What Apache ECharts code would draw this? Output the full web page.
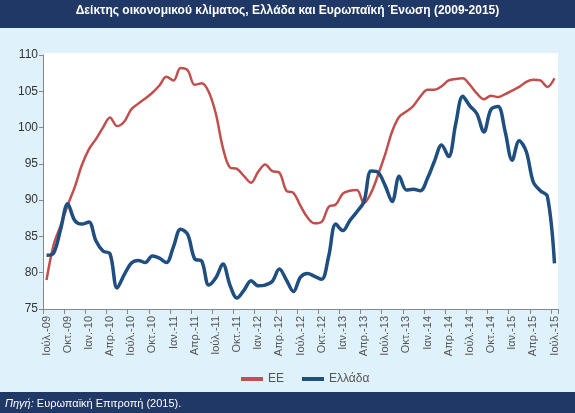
<!DOCTYPE html>
<html>
<head>
<meta charset="utf-8">
<script src="https://cdn.jsdelivr.net/npm/echarts@6/dist/echarts.min.js"></script>
<style>
html,body{margin:0;padding:0;background:#dff1fa;}
#chart{width:575px;height:413px;}
</style>
</head>
<body>
<div id="chart"></div>
<script>
var titleText = 'Δείκτης οικονομικού κλίματος, Ελλάδα και Ευρωπαϊκή Ένωση (2009-2015)';
var sourceLabel = 'Πηγή:';
var sourceText = ' Ευρωπαϊκή Επιτροπή (2015).';

var categories = [
  'Ιούλ.-09','Αύγ.-09','Σεπ.-09','Οκτ.-09','Νοέ.-09','Δεκ.-09',
  'Ιαν.-10','Φεβ.-10','Μαρ.-10','Απρ.-10','Μάι.-10','Ιούν.-10','Ιούλ.-10','Αύγ.-10','Σεπ.-10','Οκτ.-10','Νοέ.-10','Δεκ.-10',
  'Ιαν.-11','Φεβ.-11','Μαρ.-11','Απρ.-11','Μάι.-11','Ιούν.-11','Ιούλ.-11','Αύγ.-11','Σεπ.-11','Οκτ.-11','Νοέ.-11','Δεκ.-11',
  'Ιαν.-12','Φεβ.-12','Μαρ.-12','Απρ.-12','Μάι.-12','Ιούν.-12','Ιούλ.-12','Αύγ.-12','Σεπ.-12','Οκτ.-12','Νοέ.-12','Δεκ.-12',
  'Ιαν.-13','Φεβ.-13','Μαρ.-13','Απρ.-13','Μάι.-13','Ιούν.-13','Ιούλ.-13','Αύγ.-13','Σεπ.-13','Οκτ.-13','Νοέ.-13','Δεκ.-13',
  'Ιαν.-14','Φεβ.-14','Μαρ.-14','Απρ.-14','Μάι.-14','Ιούν.-14','Ιούλ.-14','Αύγ.-14','Σεπ.-14','Οκτ.-14','Νοέ.-14','Δεκ.-14',
  'Ιαν.-15','Φεβ.-15','Μαρ.-15','Απρ.-15','Μάι.-15','Ιούν.-15','Ιούλ.-15'
];

var seriesNames = ['ΕΕ', 'Ελλάδα'];

var euValues = [
  79.0, 83.8, 86.5, 89.3, 91.8, 94.8,
  97.0, 98.4, 100.0, 101.4, 100.2, 100.8, 102.5, 103.3, 104.0, 104.8, 105.8, 107.0,
  106.5, 108.2, 107.9, 105.9, 106.1, 104.9, 101.9, 97.2, 94.5, 94.3, 93.3, 92.4,
  93.9, 94.9, 94.0, 93.8, 91.3, 91.0, 89.2, 87.6, 86.8, 87.0, 89.1, 89.4,
  90.9, 91.3, 91.4, 89.6, 91.0, 93.5, 96.3, 99.5, 101.5, 102.2, 103.0, 104.3,
  105.2, 105.2, 105.7, 106.5, 106.7, 106.8, 105.9, 104.7, 103.9, 104.4, 104.2, 104.6,
  105.1, 105.6, 106.3, 106.6, 106.5, 105.6, 106.8
];

var grValues = [
  82.4, 82.7, 86.0, 89.5, 87.2, 86.7,
  87.0, 84.4, 83.0, 82.6, 77.9, 79.7, 81.3, 81.7, 81.4, 82.3, 82.0, 81.4,
  83.6, 86.0, 85.3, 81.9, 81.6, 78.3, 79.3, 81.2, 78.3, 76.5, 77.6, 78.9,
  78.2, 78.3, 78.8, 80.5, 79.0, 77.4, 79.4, 79.9, 79.5, 79.1, 82.3, 86.7,
  85.8, 87.2, 88.4, 89.8, 94.0, 93.8, 92.0, 89.8, 93.3, 91.4, 91.5, 91.3,
  93.0, 95.4, 97.6, 96.0, 100.5, 104.3, 103.0, 101.9, 99.4, 102.5, 102.9, 99.5,
  95.5, 98.2, 96.7, 92.5, 91.3, 90.5, 81.3
];

var yMin = 75, yMax = 110, yStep = 5;

var chart = echarts.init(document.getElementById('chart'));
var navy = '#1f3866';
chart.setOption({
  backgroundColor: '#dff1fa',
  animation: false,
  graphic: [
    { type: 'rect', left: 0, top: 0, shape: { width: 575, height: 28 }, style: { fill: navy }, z: 0 },
    { type: 'rect', left: 0, top: 392, shape: { width: 575, height: 21 }, style: { fill: navy }, z: 0 },
    { type: 'rect', left: 43, top: 53, shape: { width: 515, height: 4 }, style: { fill: '#ffffff' }, z: -1 },
    { type: 'text', left: 'center', top: 5,
      style: { text: titleText, fill: '#ffffff', font: 'bold 12px "Liberation Sans", Arial, sans-serif' }, z: 5 },
    { type: 'text', left: 5, top: 398,
      style: {
        text: '{i|' + sourceLabel + '}{n|' + sourceText + '}',
        fill: '#ffffff',
        rich: {
          i: { fontStyle: 'italic', fontSize: 11, fontFamily: '"Liberation Sans", Arial, sans-serif', fill: '#ffffff' },
          n: { fontSize: 11, fontFamily: '"Liberation Sans", Arial, sans-serif', fill: '#ffffff' }
        }
      }, z: 5 }
  ],
  grid: {
    left: 43, right: 17, top: 55, bottom: 104,
    show: true, backgroundColor: '#ffffff', borderWidth: 0,
    containLabel: false
  },
  legend: {
    left: 236, top: 368,
    itemWidth: 22, itemHeight: 4, itemGap: 18,
    icon: 'rect',
    textStyle: { color: '#555555', fontSize: 12, fontFamily: '"Liberation Sans", Arial, sans-serif' },
    data: seriesNames
  },
  xAxis: {
    type: 'category',
    data: categories,
    boundaryGap: true,
    axisLine: { lineStyle: { color: '#888888', width: 1 } },
    axisTick: { show: true, interval: 2, length: 5, lineStyle: { color: '#888888' } },
    axisLabel: {
      interval: 2, rotate: 90, margin: 7,
      color: '#555555', fontSize: 11, fontFamily: '"Liberation Sans", Arial, sans-serif'
    },
    splitLine: { show: false }
  },
  yAxis: {
    type: 'value',
    min: yMin, max: yMax, interval: yStep,
    axisLine: { show: true, lineStyle: { color: '#888888', width: 1 } },
    axisTick: { show: true, length: 4, lineStyle: { color: '#888888' } },
    axisLabel: { margin: 5, color: '#333333', fontSize: 12, fontFamily: '"Liberation Sans", Arial, sans-serif' },
    splitLine: { show: false }
  },
  series: [
    {
      name: seriesNames[0], type: 'line', data: euValues,
      smooth: 0.35, showSymbol: false, symbol: 'none',
      lineStyle: { color: '#c0504d', width: 2.5 },
      itemStyle: { color: '#c0504d' }, z: 3
    },
    {
      name: seriesNames[1], type: 'line', data: grValues,
      smooth: 0.35, showSymbol: false, symbol: 'none',
      lineStyle: { color: '#1f4e80', width: 3.5 },
      itemStyle: { color: '#1f4e80' }, z: 4
    }
  ]
});
</script>
</body>
</html>
